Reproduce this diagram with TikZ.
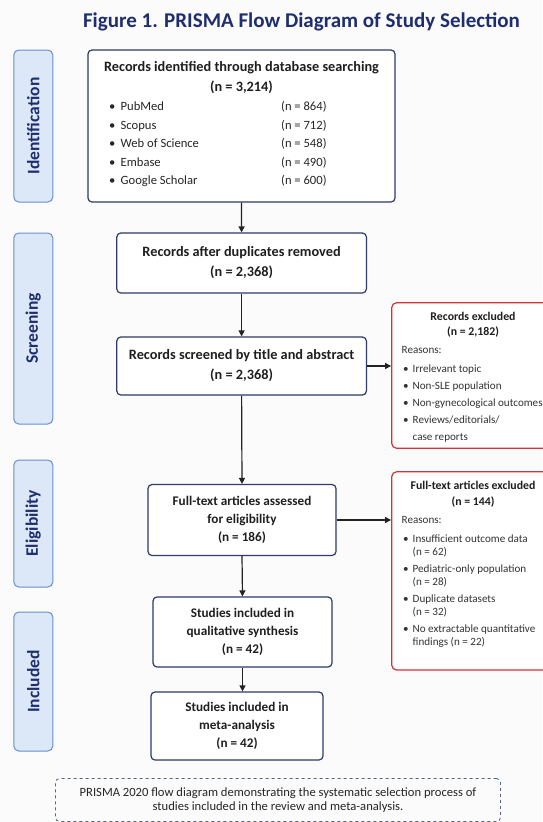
\documentclass[tikz,border=0pt]{standalone}
\usepackage{fontspec}
\setmainfont{Carlito}
\usetikzlibrary{arrows.meta}
\definecolor{navy}{HTML}{1F2E6E}
\definecolor{boxline}{HTML}{2E3A6A}
\definecolor{sidefill}{HTML}{DCE7F7}
\definecolor{sideline}{HTML}{6A8FCB}
\definecolor{exred}{HTML}{D3323A}
\definecolor{arrowc}{HTML}{222222}
\definecolor{bgc}{HTML}{FBFBFB}
\tikzset{
  side/.style={draw=sideline, fill=sidefill, line width=1pt, rounded corners=5pt, minimum width=39pt, inner sep=0pt},
  sidetext/.style={rotate=90, text=navy, font=\fontsize{17.5}{19}\selectfont\bfseries},
  mainbox/.style={draw=boxline, fill=white, line width=1.2pt, rounded corners=4pt, inner sep=0pt},
  exbox/.style={draw=exred, fill=white, line width=1.2pt, rounded corners=5pt, inner sep=0pt},
  btxt/.style={align=center, inner sep=0pt, font=\fontsize{14.3}{20}\selectfont\bfseries, text=black!88},
  stxt/.style={align=center, inner sep=0pt, font=\fontsize{13.2}{18}\selectfont\bfseries, text=black!88},
  ltxt/.style={anchor=mid west, inner sep=0pt, font=\fontsize{12.6}{14}\selectfont, text=black!85},
  etitle/.style={anchor=mid, inner sep=0pt, font=\fontsize{11.8}{13}\selectfont\bfseries, text=black!88},
  etxt/.style={anchor=mid west, inner sep=0pt, font=\fontsize{11.1}{12}\selectfont, text=black!80},
  arr/.style={draw=arrowc, line width=1.2pt, -{Triangle[length=6pt,width=6pt]}},
}
\begin{document}
\begin{tikzpicture}[x=1pt,y=-1pt]
\fill[bgc] (0,0) rectangle (542,822);
\useasboundingbox (0,0) rectangle (542,822);
% title
\node[text=navy, font=\fontsize{21}{24}\selectfont\bfseries, inner sep=0pt] (title) at (301.5,22) {Figure 1. PRISMA Flow Diagram of Study Selection};
% side labels
\node[side, minimum height=152pt] (sid) at (33.3,126) {};
\node[sidetext] (sidt) at (sid.center) {Identification};
\node[side, minimum height=191pt] (sscr) at (33.3,328.5) {};
\node[sidetext] (sscrt) at (sscr.center) {Screening};
\node[side, minimum height=127pt] (selg) at (33.3,523.5) {};
\node[sidetext] (selgt) at (selg.center) {Eligibility};
\node[side, minimum height=139pt] (sinc) at (33.3,681.5) {};
\node[sidetext] (sinct) at (sinc.center) {Included};
% box 1
\node[mainbox, minimum width=307pt, minimum height=152pt] (b1) at (241.5,126) {};
\node[btxt] (b1t) at (241.5,78) {Records identified through database searching\\(n = 3,214)};
\foreach \nm/\nv/\yy [count=\i] in {PubMed/864/108.5, Scopus/712/127, Web of Science/548/145.5, Embase/490/164, Google Scholar/600/182.5}{
  \node[ltxt] (b1b\i) at (109,\yy) {\textbullet};
  \node[ltxt] (b1n\i) at (120.5,\yy) {\nm};
  \node[ltxt] (b1v\i) at (281,\yy) {(n = \nv)};
}
% box 2
\node[mainbox, minimum width=249.6pt, minimum height=60pt] (b2) at (241.6,263) {};
\node[btxt] (b2t) at (b2.center) {Records after duplicates removed\\(n = 2,368)};
% box 3
\node[mainbox, minimum width=249.6pt, minimum height=58pt] (b3) at (241.6,366) {};
\node[btxt] (b3t) at (b3.center) {Records screened by title and abstract\\(n = 2,368)};
% box 4
\node[mainbox, minimum width=188pt, minimum height=71pt] (b4) at (242,520) {};
\node[stxt] (b4t) at (b4.center) {Full-text articles assessed\\for eligibility\\(n = 186)};
% box 5
\node[mainbox, minimum width=179pt, minimum height=70pt] (b5) at (242.5,632) {};
\node[stxt] (b5t) at (b5.center) {Studies included in\\qualitative synthesis\\(n = 42)};
% box 6
\node[mainbox, minimum width=172pt, minimum height=68pt] (b6) at (237,726) {};
\node[stxt] (b6t) at (b6.center) {Studies included in\\meta-analysis\\(n = 42)};
% excluded 1
\node[exbox, minimum width=160pt, minimum height=145.6pt] (e1) at (471.7,375.5) {};
\node[etitle] (e1t) at (473,318) {Records excluded};
\node[etitle] (e1n) at (473,333.5) {(n = 2,182)};
\node[etxt] (e1r) at (401.5,351) {Reasons:};
\foreach \tx/\yy [count=\i] in {Irrelevant topic/370, Non-SLE population/387, Non-gynecological outcomes/404}{
  \node[etxt] (e1b\i) at (403,\yy) {\textbullet};
  \node[etxt] (e1i\i) at (412.5,\yy) {\tx};
}
\node[etxt] (e1b4) at (403,421) {\textbullet};
\node[etxt] (e1i4) at (412.5,421) {Reviews\slash editorials\slash};
\node[etxt] (e1i5) at (412.5,438) {case reports};
% excluded 2
\node[exbox, minimum width=160pt, minimum height=198.3pt] (e2) at (471.7,570.9) {};
\node[etitle] (e2t) at (473,487) {Full-text articles excluded};
\node[etitle] (e2n) at (473,503) {(n = 144)};
\node[etxt] (e2r) at (401.5,521) {Reasons:};
\foreach \tx/\ty/\yy [count=\i] in {Insufficient outcome data/(n = 62)/540, Pediatric-only population/(n = 28)/570.5, Duplicate datasets/(n = 32)/600, No extractable quantitative/findings (n = 22)/630}{
  \node[etxt] (e2b\i) at (403,\yy) {\textbullet};
  \node[etxt] (e2i\i) at (412.5,\yy) {\tx};
  \node[etxt] (e2j\i) at (412.5,\yy+13) {\ty};
}
% footer
\node[draw=boxline!80, dashed, line width=0.8pt, rounded corners=4pt, minimum width=445pt, minimum height=43pt, inner sep=0pt] (foot) at (278,800) {};
\node[align=center, inner sep=0pt, font=\fontsize{12.6}{14.5}\selectfont, text=black!85] (foott) at (foot.center) {PRISMA 2020 flow diagram demonstrating the systematic selection process of\\studies included in the review and meta-analysis.};
% arrows
\draw[arr] (b1.south) -- (b2.north);
\draw[arr] (b2.south) -- (b3.north);
\draw[arr] (b3.south) -- (b4.north);
\draw[arr] (b4.south) -- (b5.north);
\draw[arr] (b5.south) -- (b5.south |- b6.north);
\draw[arr] (b3.east) -- (e1.west |- b3.east);
\draw[arr] (b4.east) -- (e2.west |- b4.east);
\end{tikzpicture}
\end{document}
